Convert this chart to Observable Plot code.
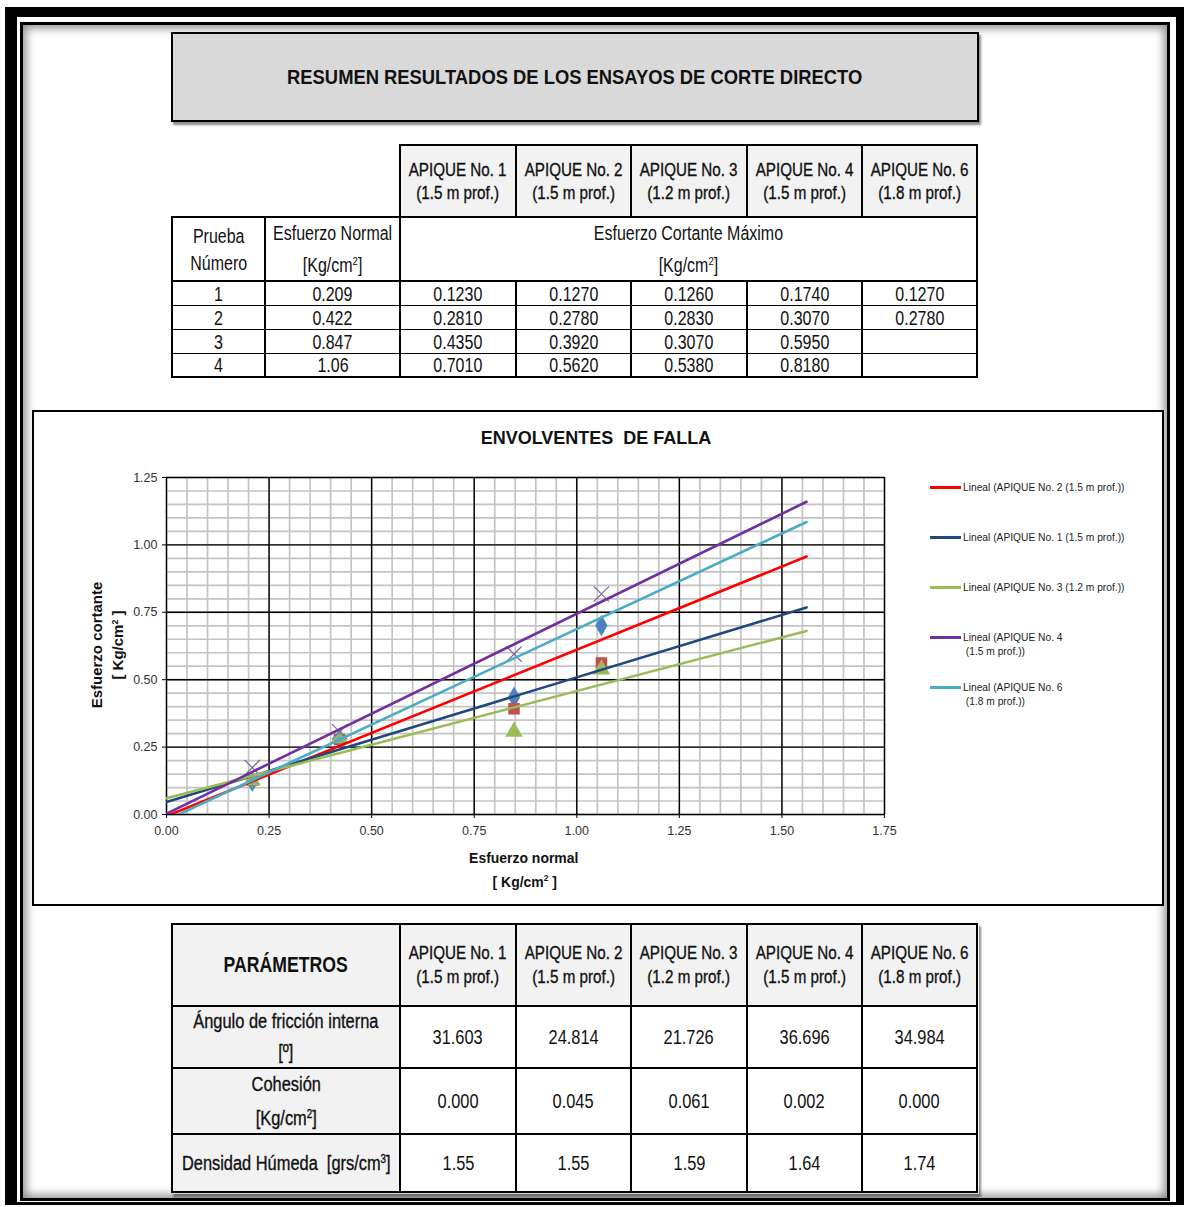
<!DOCTYPE html>
<html><head><meta charset="utf-8">
<script src="https://cdn.jsdelivr.net/npm/d3@7"></script>
<script src="https://cdn.jsdelivr.net/npm/@observablehq/plot@0.6"></script>
<style>
html,body{margin:0;padding:0;background:#fff;}
#page{position:relative;width:1184px;height:1207px;overflow:hidden;background:#fff;
  font-family:"Liberation Sans",Arial,sans-serif;color:#111;}
.abs{position:absolute;box-sizing:border-box;}
.cell{position:absolute;box-sizing:border-box;border:2px solid #000;display:flex;flex-direction:column;
  align-items:center;justify-content:center;text-align:center;white-space:nowrap;background:#fff;}
.in{white-space:nowrap;}
sup{font-size:0.6em;vertical-align:0.6em;line-height:0;}
.txt{position:absolute;white-space:pre;text-align:center;}
</style></head>
<body><div id="page"></div>
<script>
// ---------------- data ----------------
const pageTitle = "RESUMEN RESULTADOS DE LOS ENSAYOS DE CORTE DIRECTO";
const apiqueNames = ["APIQUE No. 1", "APIQUE No. 2", "APIQUE No. 3", "APIQUE No. 4", "APIQUE No. 6"];
const apiqueDepths = ["(1.5 m prof.)", "(1.5 m prof.)", "(1.2 m prof.)", "(1.5 m prof.)", "(1.8 m prof.)"];
const testNumbers = [1, 2, 3, 4];
const normalStress = [0.209, 0.422, 0.847, 1.06];
const shearApique1 = [0.1230, 0.2810, 0.4350, 0.7010];
const shearApique2 = [0.1270, 0.2780, 0.3920, 0.5620];
const shearApique3 = [0.1260, 0.2830, 0.3070, 0.5380];
const shearApique4 = [0.1740, 0.3070, 0.5950, 0.8180];
const shearApique6 = [0.1270, 0.2780, null, null];
const frictionAngle = [31.603, 24.814, 21.726, 36.696, 34.984];
const cohesion = [0.000, 0.045, 0.061, 0.002, 0.000];
const wetDensity = [1.55, 1.55, 1.59, 1.64, 1.74];

const chartTitle = "ENVOLVENTES  DE FALLA";
const xTicks = [0, 0.25, 0.5, 0.75, 1.0, 1.25, 1.5, 1.75];
const yTicks = [0, 0.25, 0.5, 0.75, 1.0, 1.25];
const markerColors = ["#4F81BD", "#C0504D", "#9BBB59", "#8064A2", "#4BACC6"];
const markerSymbols = ["diamond", "square", "triangle", "times", "asterisk"];

// trendlines (legend order): y at x = 0 and at x = trendEndX
const trendLabels = [
  "Lineal (APIQUE No. 2 (1.5 m prof.))",
  "Lineal (APIQUE No. 1 (1.5 m prof.))",
  "Lineal (APIQUE No. 3 (1.2 m prof.))",
  "Lineal (APIQUE No. 4\n(1.5 m prof.))",
  "Lineal (APIQUE No. 6\n(1.8 m prof.))"
];
const trendColors = ["#FF0000", "#1F497D", "#9BBB59", "#7030A0", "#4BACC6"];
const trendStartY = [-0.006, 0.046, 0.060, 0.003, -0.021];
const trendEndY = [0.957, 0.768, 0.681, 1.160, 1.085];
const trendEndX = 1.56;

// ---------------- helpers ----------------
const page = document.getElementById("page");
function el(cls, css, html) {
  const d = document.createElement("div");
  d.className = cls;
  Object.assign(d.style, css);
  if (html != null) d.innerHTML = html;
  page.appendChild(d);
  return d;
}
function cell(x0, y0, x1, y1, lines, o = {}) {
  const bt = o.bt ?? 2, bb = o.bb ?? 2;
  const top = y0 - (bt === 2 ? 1 : 0);
  const bottom = y1 + 1;
  const sx = o.sx ?? 0.82;
  const stroke = o.semi ? "-webkit-text-stroke:0.35px #111;" : "";
  return el("cell", {
    left: (x0 - 1) + "px", top: top + "px", width: (x1 - x0 + 2) + "px", height: (bottom - top) + "px",
    borderTopWidth: bt + "px", borderBottomWidth: bb + "px",
    background: o.bg || "#fff", fontSize: (o.fs || 19.5) + "px", lineHeight: (o.lh || 20) + "px",
    fontWeight: o.bold ? "bold" : "normal", paddingTop: (o.pt || 0) + "px"
  }, `<div class="in" style="transform:scaleX(${sx});${stroke}">${lines.join("<br>")}</div>`);
}
const unit2 = "[Kg/cm<sup>2</sup>]";

// ---------------- frames ----------------
el("abs", {left: "5px", top: "7px", width: "1179px", height: "1198px", borderStyle: "solid", borderColor: "#000",
  borderWidth: "10px 8px 3px 12px"});
el("abs", {left: "20px", top: "22px", width: "1150px", height: "1179px", border: "3px solid #000",
  boxShadow: "inset 0 0 10px 3px rgba(0,0,0,0.45)"});

// title box
const tb = cell(172, 33, 978, 121, [pageTitle], {bg: "#D9D9D9", fs: 21, bold: true, lh: 24, sx: 0.875});
tb.style.boxShadow = "2px 3px 2px rgba(0,0,0,0.45)";

// ---------------- top table ----------------
const colEdges = [172, 265, 400, 516, 631, 747, 862, 977];
apiqueNames.forEach((n, j) => {
  cell(colEdges[j + 2], 145, colEdges[j + 3], 217, [n, apiqueDepths[j]], {bg: "#F2F2F2", fs: 18.5, lh: 23, semi: true});
});
cell(172, 217, 265, 281, ["Prueba", "Número"], {lh: 27, pt: 2});
cell(265, 217, 400, 281, ["Esfuerzo Normal", unit2], {lh: 32});
cell(400, 217, 977, 281, ["Esfuerzo Cortante Máximo", unit2], {lh: 32});
const shearSeries = [shearApique1, shearApique2, shearApique3, shearApique4, shearApique6];
testNumbers.forEach((t, i) => {
  const y0 = 281 + i * 24, y1 = y0 + 24;
  const o = {lh: 20, bt: i === 0 ? 2 : 1, bb: i === testNumbers.length - 1 ? 2 : 1};
  cell(colEdges[0], y0, colEdges[1], y1, [String(t)], o);
  cell(colEdges[1], y0, colEdges[2], y1, [String(normalStress[i])], o);
  shearSeries.forEach((s, j) => {
    cell(colEdges[j + 2], y0, colEdges[j + 3], y1, [s[i] == null ? "" : s[i].toFixed(4)], o);
  });
});

// ---------------- chart box ----------------
el("abs", {left: "32px", top: "410px", width: "1132px", height: "496px", border: "2px solid #000", background: "#fff"});
el("txt", {left: "32px", width: "1128px", top: "427px", fontWeight: "bold", fontSize: "18px", lineHeight: "22px"},
  `<span style="display:inline-block;transform:scaleX(1.0)">${chartTitle}</span>`);
// y title (rotated)
[["Esfuerzo cortante", 97], ["[ Kg/cm<sup>2</sup> ]", 118]].forEach(([t, cx]) => {
  el("txt", {left: (cx - 100) + "px", top: (645 - 10) + "px", width: "200px", height: "20px",
    lineHeight: "20px", fontWeight: "bold", fontSize: "15px", transform: "rotate(-90deg)"}, t);
});
// x title
[["Esfuerzo normal", 524, 848], ["[ Kg/cm<sup>2</sup> ]", 525, 872]].forEach(([t, cx, y]) => {
  el("txt", {left: (cx - 100) + "px", width: "200px", top: y + "px", lineHeight: "20px", fontSize: "15.5px",
    fontWeight: "bold"}, `<span style="display:inline-block;transform:scaleX(0.9)">${t}</span>`);
});

// legend
const legendY = [487, 537, 587, 637, 687];
trendLabels.forEach((lab, i) => {
  el("abs", {left: "930px", top: (legendY[i] - 1.5) + "px", width: "31px", height: "3px", background: trendColors[i]});
  el("abs", {left: "963px", top: (legendY[i] - 7) + "px", whiteSpace: "pre", fontSize: "11px", lineHeight: "14px",
    color: "#222", transform: "scaleX(0.93)", transformOrigin: "left center"}, lab.replace("\n", "\n "));
});

// ---------------- plot ----------------
const minorX = d3.range(0, 1.7501, 0.05);
const minorY = d3.range(0, 1.2501, 0.05);
const dotMarks = shearSeries.map((s, i) => {
  const pts = normalStress.map((x, k) => ({x, y: s[k]})).filter(d => d.y != null);
  const stroked = markerSymbols[i] === "times" || markerSymbols[i] === "asterisk";
  return Plot.dot(pts, {
    x: "x", y: "y", symbol: markerSymbols[i], r: stroked ? 7 : 6.5,
    fill: stroked ? "none" : markerColors[i], stroke: stroked ? markerColors[i] : "none", strokeWidth: 1.2
  });
});
const lineMarks = trendColors.map((c, i) =>
  Plot.line([[0, trendStartY[i]], [trendEndX, trendEndY[i]]], {stroke: c, strokeWidth: 2.6, clip: true})
);
const chart = Plot.plot({
  width: 1128, height: 492,
  marginLeft: 132, marginRight: 278, marginTop: 65, marginBottom: 90,
  x: {domain: [0, 1.75]},
  y: {domain: [0, 1.25]},
  style: {background: "transparent", fontFamily: "'Liberation Sans',Arial,sans-serif",
    fontSize: "12.5px", color: "#333"},
  marks: [
    Plot.gridX({ticks: minorX, stroke: "#C4C4C4", strokeOpacity: 1, strokeWidth: 1.7}),
    Plot.gridY({ticks: minorY, stroke: "#C4C4C4", strokeOpacity: 1, strokeWidth: 1.7}),
    Plot.gridX({ticks: xTicks, stroke: "#000", strokeOpacity: 1, strokeWidth: 1.4}),
    Plot.gridY({ticks: yTicks, stroke: "#000", strokeOpacity: 1, strokeWidth: 1.4}),
    Plot.axisX({ticks: xTicks, tickFormat: d => d.toFixed(2), tickSize: 4, tickPadding: 8, label: null, stroke: "#000"}),
    Plot.axisY({ticks: yTicks, tickFormat: d => d.toFixed(2), tickSize: 4, tickPadding: 5, label: null, stroke: "#000"}),
    ...dotMarks,
    ...lineMarks
  ]
});
const holder = el("abs", {left: "34px", top: "412px", width: "1128px", height: "492px"});
holder.appendChild(chart);

// ---------------- bottom table ----------------
const rowEdges = [924, 1006, 1068, 1134, 1192];
const bEdges = [172, 400, 516, 631, 747, 862, 977];
el("abs", {left: "171px", top: "923px", width: "808px", height: "271px", boxShadow: "2px 3px 2px rgba(0,0,0,0.45)"});
cell(bEdges[0], rowEdges[0], bEdges[1], rowEdges[1], ["PARÁMETROS"], {bg: "#F2F2F2", fs: 21.5, bold: true, lh: 24});
apiqueNames.forEach((n, j) => {
  cell(bEdges[j + 1], rowEdges[0], bEdges[j + 2], rowEdges[1], [n, apiqueDepths[j]],
    {bg: "#F2F2F2", fs: 18.5, lh: 24, semi: true});
});
const rowLabels = [
  [["Ángulo de fricción interna", "[º]"], 31],
  [["Cohesión", unit2], 34],
  [["Densidad Húmeda&nbsp; [grs/cm<sup>3</sup>]"], 22]
];
const rowValues = [frictionAngle.map(v => v.toFixed(3)), cohesion.map(v => v.toFixed(3)), wetDensity.map(v => v.toFixed(2))];
rowLabels.forEach(([lines, lh], r) => {
  cell(bEdges[0], rowEdges[r + 1], bEdges[1], rowEdges[r + 2], lines, {bg: "#F2F2F2", fs: 20, lh, semi: true});
  rowValues[r].forEach((v, j) => {
    cell(bEdges[j + 1], rowEdges[r + 1], bEdges[j + 2], rowEdges[r + 2], [v], {fs: 20, lh: 22});
  });
});
</script>
</body></html>
